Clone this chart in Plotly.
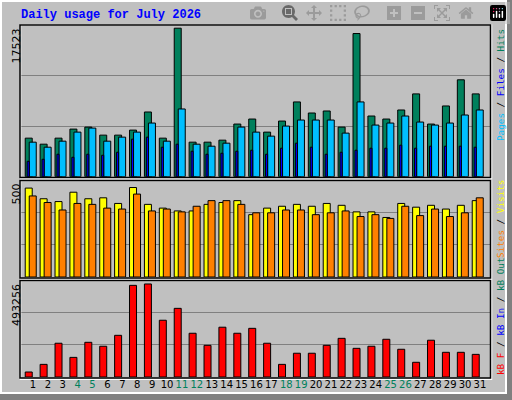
import plotly.graph_objects as go

days = list(range(1, 32))
weekend = [4, 5, 11, 12, 18, 19, 25, 26]

hits = [4549, 3837, 4549, 5617, 5855, 4905, 4905, 5499, 7635, 4549, 17523, 4075, 4075, 4312, 6211, 6804,
        5261, 6567, 8822, 7516, 7754, 5855, 16892, 7160, 6804, 7872, 9771, 6211, 8347, 11433, 9771]
pages = [4075, 3481, 4193, 5261, 5736, 4193, 4668, 5261, 6330, 4193, 7991, 3837, 3600, 3956, 5855, 5261,
         4787, 5974, 6686, 6686, 6686, 5143, 8822, 6092, 6330, 7160, 6448, 6092, 6330, 7279, 7872]
files = [1820, 2057, 2651, 2294, 2651, 2532, 2888, 4431, 4668, 3481, 3837, 3007, 2651, 2769, 3007, 3125,
         2651, 3363, 3956, 3481, 2651, 2888, 3125, 3363, 3363, 3719, 3363, 3600, 3600, 3600, 3481]
visits = [475, 418, 403, 453, 418, 423, 393, 478, 388, 368, 353, 353, 388, 398, 408, 333,
          368, 378, 388, 378, 393, 383, 348, 348, 318, 393, 373, 383, 363, 383, 408]
sites = [433, 398, 358, 393, 388, 368, 363, 443, 353, 363, 348, 378, 408, 408, 388, 343,
         343, 358, 358, 333, 343, 353, 323, 333, 313, 378, 328, 363, 323, 343, 423]
kbytes = [26500, 67000, 179000, 104000, 184000, 163000, 221000, 486000, 493256, 301000, 364000, 232000,
          168000, 264000, 232000, 258000, 179000, 67000, 126000, 126000, 168000, 205000, 152000, 163000,
          200000, 147000, 78000, 195000, 131000, 131000, 120000]

W, H = 512, 400
GREEN = "#00805C"
BG = "#C0C0C0"


def px(x):
    return x / W


def py(y):
    return 1 - y / H


line = dict(color="black", width=1)
fig = go.Figure()
fig.add_bar(x=days, y=hits, yaxis="y", marker=dict(color=GREEN, line=line), offset=-0.52, width=0.47)
fig.add_bar(x=days, y=pages, yaxis="y", marker=dict(color="#00BFFF", line=line), offset=-0.25, width=0.47)
fig.add_bar(x=days, y=files, yaxis="y", marker=dict(color="#0000FF", line=line), offset=-0.39, width=0.14)
fig.add_bar(x=days, y=visits, yaxis="y2", marker=dict(color="#FFFF00", line=line), offset=-0.52, width=0.47)
fig.add_bar(x=days, y=sites, yaxis="y2", marker=dict(color="#FF8000", line=line), offset=-0.25, width=0.47)
fig.add_bar(x=days, y=kbytes, yaxis="y3", marker=dict(color="#FF0000", line=line), offset=-0.52, width=0.47)

ticktext = [f'<span style="color:{GREEN if d in weekend else "black"}">{d}</span>' for d in days]


def yax(top, bottom, rmax):
    return dict(domain=[py(bottom), py(top)], range=[0, rmax], tickvals=[rmax / 3, 2 * rmax / 3],
                showticklabels=False, showgrid=True, gridcolor="#808080", gridwidth=1,
                zeroline=False, fixedrange=True)


fig.update_layout(
    width=W, height=H, margin=dict(l=0, r=0, t=0, b=0),
    paper_bgcolor=BG, plot_bgcolor=BG, showlegend=False, barmode="overlay",
    xaxis=dict(domain=[px(20), px(491)], range=[0.13, 31.74], anchor="y3", tickvals=days,
               ticktext=ticktext, ticks="", showgrid=False, zeroline=False, tickangle=0,
               automargin=False,
               tickfont=dict(family="DejaVu Sans", size=10, color="black")),
    yaxis=yax(25, 176.7, 17900),
    yaxis2=yax(180.5, 277, 500 * 99.5 / 96.5),
    yaxis3=yax(280.5, 377, 511700),
)

shapes = [
    dict(type="rect", xref="paper", yref="paper", x0=px(507), x1=1, y0=0, y1=1, fillcolor="#808080", line_width=0),
    dict(type="rect", xref="paper", yref="paper", x0=0, x1=1, y0=0, y1=py(394), fillcolor="#808080", line_width=0),
    dict(type="rect", xref="paper", yref="paper", x0=px(1), x1=px(506), y0=py(393), y1=py(1),
         fillcolor="rgba(0,0,0,0)", line=dict(color="white", width=2)),
]
for top, bottom in [(25, 177.5), (180.5, 278), (280.5, 378)]:
    shapes.append(dict(type="rect", xref="paper", yref="paper", x0=px(20.5), x1=px(491.5),
                       y0=py(bottom + 1.2), y1=py(top), fillcolor="rgba(0,0,0,0)",
                       line=dict(color="white", width=1.5), layer="above"))
    shapes.append(dict(type="rect", xref="paper", yref="paper", x0=px(20), x1=px(490.5),
                       y0=py(bottom), y1=py(top), fillcolor="rgba(0,0,0,0)",
                       line=dict(color="black", width=1.5), layer="above"))
fig.update_layout(shapes=shapes)

mono = "DejaVu Sans Mono"
ann = [
    dict(x=px(19), y=py(15), text="<b>Daily usage for July 2026</b>", xanchor="left", yanchor="middle",
         font=dict(family="Liberation Mono", size=12, color="#0000FF")),
    dict(x=px(16), y=py(27), text=str(max(hits)), textangle=-90, xanchor="center", yanchor="top",
         font=dict(family="DejaVu Sans", size=11, color="black")),
    dict(x=px(16), y=py(182), text="500", textangle=-90, xanchor="center", yanchor="top",
         font=dict(family="DejaVu Sans", size=11, color="black")),
    dict(x=px(16), y=py(282), text=str(max(kbytes)), textangle=-90, xanchor="center", yanchor="top",
         font=dict(family="DejaVu Sans", size=11, color="black")),
    dict(x=px(500), y=py(27), textangle=-90, xanchor="center", yanchor="top",
         text='<span style="color:#00BFFF">Pages</span> / <span style="color:#0000FF">Files</span>'
              f' / <span style="color:{GREEN}">Hits</span>',
         font=dict(family=mono, size=9.3, color="black")),
    dict(x=px(500), y=py(178), textangle=-90, xanchor="center", yanchor="top",
         text='<span style="color:#FF8000">Sites</span> / <span style="color:#FFFF00">Visits</span>',
         font=dict(family=mono, size=9.3, color="black")),
    dict(x=px(500), y=py(377), textangle=-90, xanchor="center", yanchor="bottom",
         text='<span style="color:#FF0000">kB F</span> / <span style="color:#0000FF">kB In</span>'
              f' / <span style="color:{GREEN}">kB Out</span>',
         font=dict(family=mono, size=9.3, color="black")),
]
for a in ann:
    a.update(xref="paper", yref="paper", showarrow=False)
fig.update_layout(annotations=ann)

fig.write_html("out.html", post_script="document.body.style.margin='0';document.body.style.overflow='hidden';")
